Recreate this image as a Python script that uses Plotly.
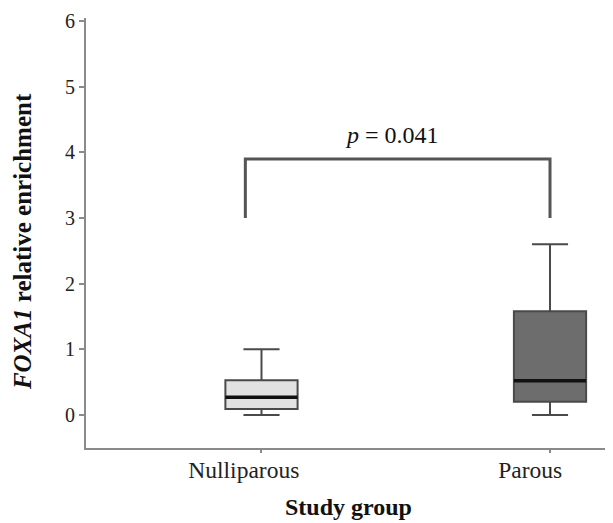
import plotly.graph_objects as go

groups = ["Nulliparous", "Parous"]
positions = [0.053, 1.0]
label_pos = [-0.005, 0.935]
lower = [0.0, 0.0]
q1 = [0.09, 0.20]
median = [0.27, 0.52]
q3 = [0.53, 1.58]
upper = [1.0, 2.6]
fills = ["#e2e2e2", "#6d6d6d"]
box_w = 0.237

bracket_x = [0, 0, 1, 1]
bracket_y = [3.0, 3.9, 3.9, 3.0]
p_text = "<i>p</i> = 0.041"
y_ticks = [0, 1, 2, 3, 4, 5, 6]

FONT = "Liberation Serif, Times New Roman, serif"

fig = go.Figure()
for i, g in enumerate(groups):
    fig.add_trace(go.Box(
        x=[positions[i]], lowerfence=[lower[i]], q1=[q1[i]], median=[median[i]],
        q3=[q3[i]], upperfence=[upper[i]], name=g, width=box_w,
        fillcolor=fills[i], line=dict(color="#4a4a4a", width=2),
        whiskerwidth=0.5, showlegend=False, boxpoints=False))
    fig.add_trace(go.Scatter(
        x=[positions[i] - box_w / 2, positions[i] + box_w / 2], y=[median[i], median[i]],
        mode="lines", line=dict(color="#111111", width=3.5), showlegend=False, hoverinfo="skip"))

fig.add_trace(go.Scatter(x=bracket_x, y=bracket_y, mode="lines",
                         line=dict(color="#555555", width=3), showlegend=False, hoverinfo="skip"))
fig.add_annotation(x=0.48, y=4.27, text=p_text, showarrow=False,
                   font=dict(family=FONT, size=24, color="#111"))

# axis titles as annotations for precise placement
fig.add_annotation(xref="paper", yref="paper", x=-0.1195, y=0.479, text="<b><i>FOXA1</i> relative enrichment</b>",
                   textangle=-90, showarrow=False, xanchor="center", yanchor="middle",
                   font=dict(family=FONT, size=25, color="#111"))
fig.add_annotation(xref="paper", yref="paper", x=0.4915, y=-0.138, text="<b>Study group</b>",
                   showarrow=False, xanchor="center", yanchor="middle",
                   font=dict(family=FONT, size=24, color="#111"))

fig.update_layout(
    width=613, height=523,
    margin=dict(l=78, r=0, t=10, b=83),
    paper_bgcolor="white", plot_bgcolor="white",
    font=dict(family=FONT, size=20, color="#222"),
    xaxis=dict(range=[-0.523, 1.233], tickvals=label_pos, ticktext=groups,
               tickfont=dict(size=23.5),
               showgrid=False, zeroline=False, showline=True, linecolor="#8a8a8a", linewidth=2,
               ticks="",
               minor=dict(tickvals=positions, ticks="outside", ticklen=3, tickwidth=2,
                          tickcolor="#8a8a8a", showgrid=False)),
    yaxis=dict(range=[-0.503, 6.046], tickvals=y_ticks,
               showgrid=False, zeroline=False, showline=True, linecolor="#8a8a8a", linewidth=2,
               ticks="outside", ticklen=5, tickcolor="#8a8a8a", tickwidth=2, tickfont=dict(size=20)),
)
fig.write_html("out.html")
